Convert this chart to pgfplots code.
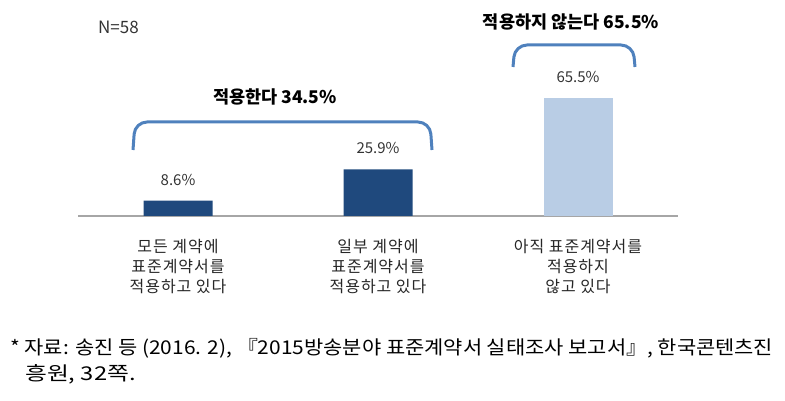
\documentclass[border=0pt]{standalone}
\usepackage{fontspec}
\setmainfont{Noto Sans CJK KR}
\usepackage{graphicx}
\usepackage{pgfplots}
\pgfplotsset{compat=1.18}
\definecolor{darkbar}{RGB}{31,73,125}
\definecolor{lightbar}{RGB}{185,205,229}
\definecolor{bracecol}{RGB}{79,129,189}
\definecolor{basegray}{RGB}{166,166,166}
\begin{document}
\begin{tikzpicture}
\path[use as bounding box] (0pt,0pt) rectangle (785pt,401pt);
\begin{axis}[
  at={(78pt,185pt)}, anchor=south west,
  scale only axis, width=600pt, height=144pt,
  xmin=-0.5, xmax=2.5, ymin=0, ymax=80,
  axis y line=none, axis x line=bottom,
  x axis line style={-, draw=basegray, line width=2pt},
  xtick={0,1,2},
  xticklabels={{모든 계약에\\표준계약서를\\적용하고 있다},{일부 계약에\\표준계약서를\\적용하고 있다},{아직 표준계약서를\\적용하지\\않고 있다}},
  major tick length=0pt,
  xticklabel style={align=center, font=\fontsize{16}{20}\selectfont\addfontfeature{LetterSpace=6}, text=black!85, anchor=north, yshift=-20pt},
  ybar, bar width=69pt, bar shift=0pt,
  /pgf/number format/assume math mode=true,
  nodes near coords={\pgfmathprintnumber[fixed,fixed zerofill,precision=1,assume math mode=true]{\pgfplotspointmeta}\%},
  every node near coord/.append style={anchor=center, yshift=21pt, font=\fontsize{15}{18}\selectfont, text=black!80},
  clip=false,
]
\addplot[fill=darkbar, draw=none] coordinates {(0,8.6) (1,25.9)};
\addplot[fill=lightbar, draw=none] coordinates {(2,65.5)};
\end{axis}
\draw[bracecol, line width=3pt, rounded corners=12pt] (133pt,251pt) -- (135pt,279pt) -- (430pt,279pt) -- (432pt,251pt);
\draw[bracecol, line width=3pt, rounded corners=12pt] (513pt,334pt) -- (515pt,356pt) -- (633pt,356pt) -- (635pt,334pt);
\node[font=\bfseries\fontsize{17.5}{20}\selectfont] at (275pt,304pt) {적용한다 34.5\%};
\node[font=\bfseries\fontsize{17.5}{20}\selectfont] at (571pt,379pt) {적용하지 않는다 65.5\%};
\node[font=\fontsize{17}{18}\selectfont, text=black!80, anchor=west, inner sep=0pt] at (98pt,374pt) {N=58};
\node[font=\fontsize{19}{22}\selectfont, anchor=west, inner sep=0pt] at (10pt,53pt) {\resizebox{763pt}{\height}{* 자료: 송진 등 (2016. 2), 『2015방송분야 표준계약서 실태조사 보고서』, 한국콘텐츠진}};
\node[font=\fontsize{19}{22}\selectfont, anchor=west, inner sep=0pt] at (25pt,27pt) {\scalebox{1.25}[1]{흥원, 32쪽.}};
\end{tikzpicture}
\end{document}
